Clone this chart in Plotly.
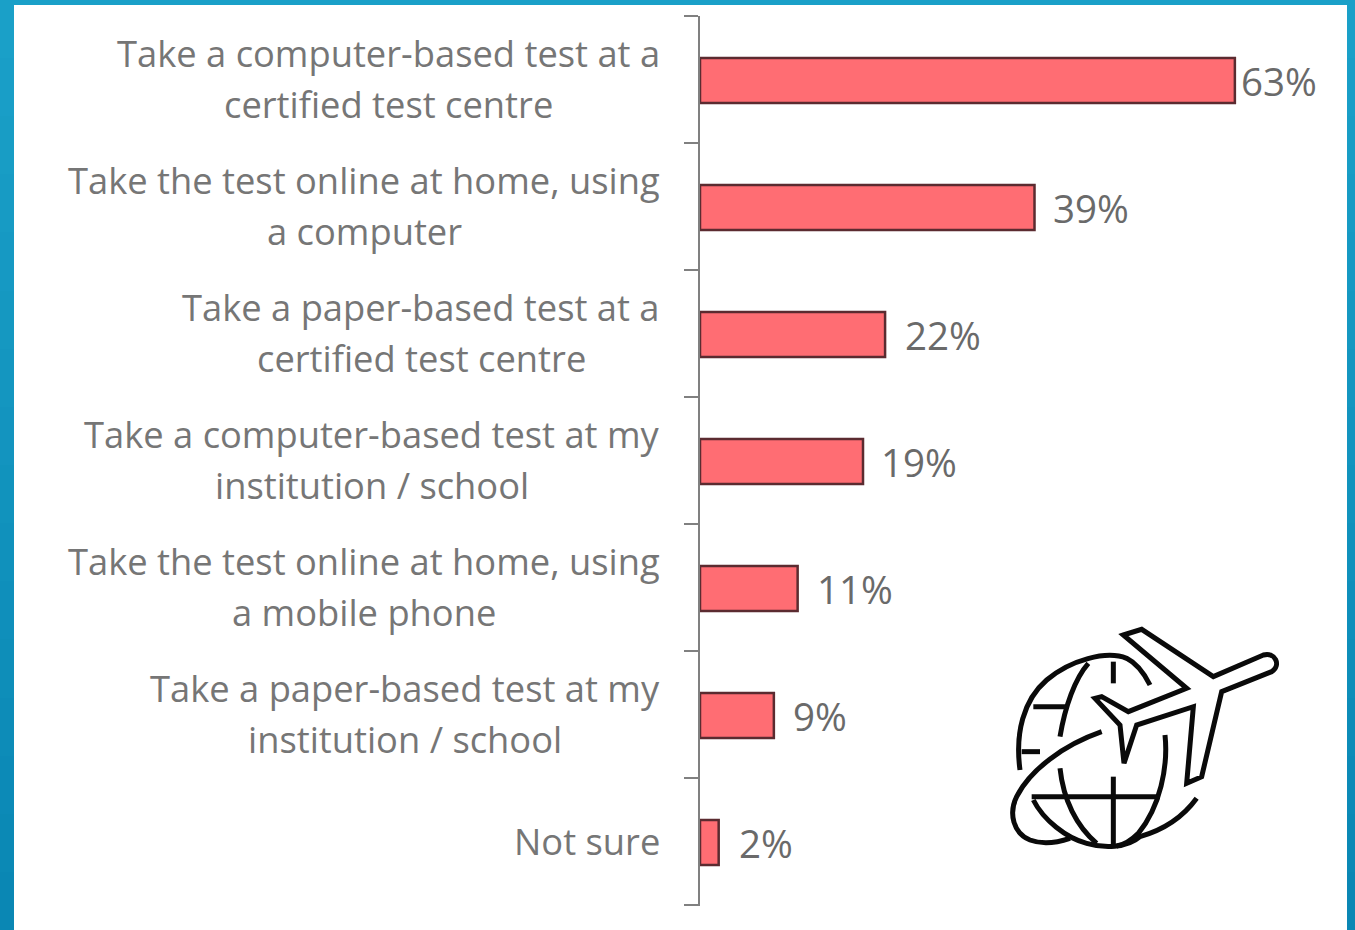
import plotly.graph_objects as go

W, H = 1355, 930

# ---- data ----
categories = [
    "Take a computer-based test at a certified test centre",
    "Take the test online at home, using a computer",
    "Take a paper-based test at a certified test centre",
    "Take a computer-based test at my institution / school",
    "Take the test online at home, using a mobile phone",
    "Take a paper-based test at my institution / school",
    "Not sure",
]
category_lines = [
    ["Take a computer-based test at a", "certified test centre"],
    ["Take the test online at home, using", "a computer"],
    ["Take a paper-based test at a", "certified test centre"],
    ["Take a computer-based test at my", "institution / school"],
    ["Take the test online at home, using", "a mobile phone"],
    ["Take a paper-based test at my", "institution / school"],
    ["Not sure"],
]
values = [63, 39.4, 21.8, 19.2, 11.5, 8.7, 2.2]
value_labels = ["63%", "39%", "22%", "19%", "11%", "9%", "2%"]

# ---- styling / layout ----
label_font = dict(family="Open Sans", size=36.3, color="#767676")
value_font = dict(family="Open Sans", size=38.5, color="#6a6a6a")
label_centres = [388, 364, 421, 372, 364, 405, 587]
label_gaps = [4, 16, 18, 16, 17, 17, 18]
AX_X, PX_PER_UNIT, PLOT_R = 700, 8.49, 1335
PLOT_T, PLOT_B = 16, 905
AXIS_GREY = "#808080"


def px(x):
    return x / W


def py(y):
    return 1 - y / H


def icon_path(d):
    """Icon outline written in pixels relative to the icon box, scaled 1/3."""
    out = []
    for tok in d.split():
        if tok[0].isalpha():
            out.append(tok[0])
            tok = tok[1:]
        if not tok:
            continue
        a, b = tok.split(",")
        out.append(f"{px(980 + float(a) / 3):.5f},{py(600 + float(b) / 3):.5f}")
    return " ".join(out)


icon_paths = [
    # plane
    "M430,105 L485,88 L700,230 L850,165 C885,155 905,195 875,215 L725,275 L665,530 L620,550 "
    "L640,320 L470,375 L432,490 L420,375 L345,295 L365,290 L445,335 L620,265 Z",
    # globe, upper-left arc
    "M120,510 C105,400 130,300 200,240 C270,180 380,150 440,175 C470,190 495,225 510,255",
    "M325,190 C285,235 255,320 240,410",
    "M400,185 L400,250",
    "M160,320 L255,320",
    "M125,455 L180,455",
    # orbit
    "M365,395 C250,435 150,510 110,590 C85,640 100,700 150,720 C190,735 240,725 270,715",
    # lower globe
    "M240,505 C250,600 290,680 350,730",
    "M160,600 C190,660 260,715 320,730 C370,745 440,745 480,710 C550,690 610,650 650,595",
    "M555,405 C565,500 540,620 475,700 C455,720 430,735 410,738",
    "M400,530 L400,740",
    "M155,590 L540,590",
]

shapes = []
# blue frame, lightly graded from top to bottom
STEPS = 16
top, bottom = (26, 160, 200), (10, 135, 180)
for i in range(STEPS):
    t = i / (STEPS - 1)
    col = "rgb(%d,%d,%d)" % tuple(round(a + (b - a) * t) for a, b in zip(top, bottom))
    y_top = round(H * i / STEPS)
    y_bot = H if i == STEPS - 1 else round(H * (i + 1) / STEPS) + 2
    shapes.append(dict(type="rect", xref="paper", yref="paper", layer="below",
                       x0=0, x1=1, y0=py(y_bot), y1=py(y_top),
                       fillcolor=col, line_width=0))
shapes.append(dict(type="rect", xref="paper", yref="paper", layer="below",
                   x0=px(14), x1=px(1347), y0=0, y1=py(5),
                   fillcolor="white", line_width=0))
# closing tick at the foot of the axis
shapes.append(dict(type="line", xref="paper", yref="paper",
                   x0=px(AX_X - 16), x1=px(AX_X), y0=py(PLOT_B), y1=py(PLOT_B),
                   line=dict(color=AXIS_GREY, width=2)))
for d in icon_paths:
    shapes.append(dict(type="path", xref="paper", yref="paper", path=icon_path(d),
                       line=dict(color="#0a0a0a", width=5), fillcolor="rgba(0,0,0,0)"))

annotations = []
for cat, lines, centre, val, lab, gap in zip(categories, category_lines, label_centres,
                                             values, value_labels, label_gaps):
    offs = [26.5, -24.5] if len(lines) == 2 else [1]
    for line, off in zip(lines, offs):
        annotations.append(dict(text=line, xref="paper", x=px(centre), yref="y", y=cat,
                                xanchor="center", yanchor="middle", yshift=off,
                                showarrow=False, font=label_font))
    annotations.append(dict(text=lab, xref="x", x=val, yref="y", y=cat, xanchor="left",
                            yanchor="middle", xshift=gap, yshift=-1,
                            showarrow=False, font=value_font))

fig = go.Figure(go.Bar(
    x=values, y=categories, orientation="h", width=0.355, offset=-0.17,
    marker=dict(color="#ff6d73", line=dict(color="#5b2b30", width=2.5)),
    hoverinfo="skip",
))
fig.update_layout(
    width=W, height=H, autosize=False,
    margin=dict(l=0, r=0, t=0, b=0, pad=0),
    paper_bgcolor="#1294be", plot_bgcolor="rgba(0,0,0,0)",
    showlegend=False, shapes=shapes, annotations=annotations,
    xaxis=dict(domain=[px(AX_X), px(PLOT_R)], range=[0, (PLOT_R - AX_X) / PX_PER_UNIT],
               visible=False, fixedrange=True),
    yaxis=dict(domain=[py(PLOT_B), py(PLOT_T)], autorange=False, range=[6.5, -0.5],
               categoryorder="array", categoryarray=categories,
               tickson="boundaries", ticks="outside", ticklen=14, tickwidth=2,
               tickcolor=AXIS_GREY, showticklabels=False, showgrid=False,
               showline=True, linecolor=AXIS_GREY, linewidth=2, zeroline=False,
               anchor="x", fixedrange=True),
)
fig.write_html("out.html", config=dict(displayModeBar=False),
               post_script="document.body.style.margin='0';document.body.style.overflow='hidden';")
